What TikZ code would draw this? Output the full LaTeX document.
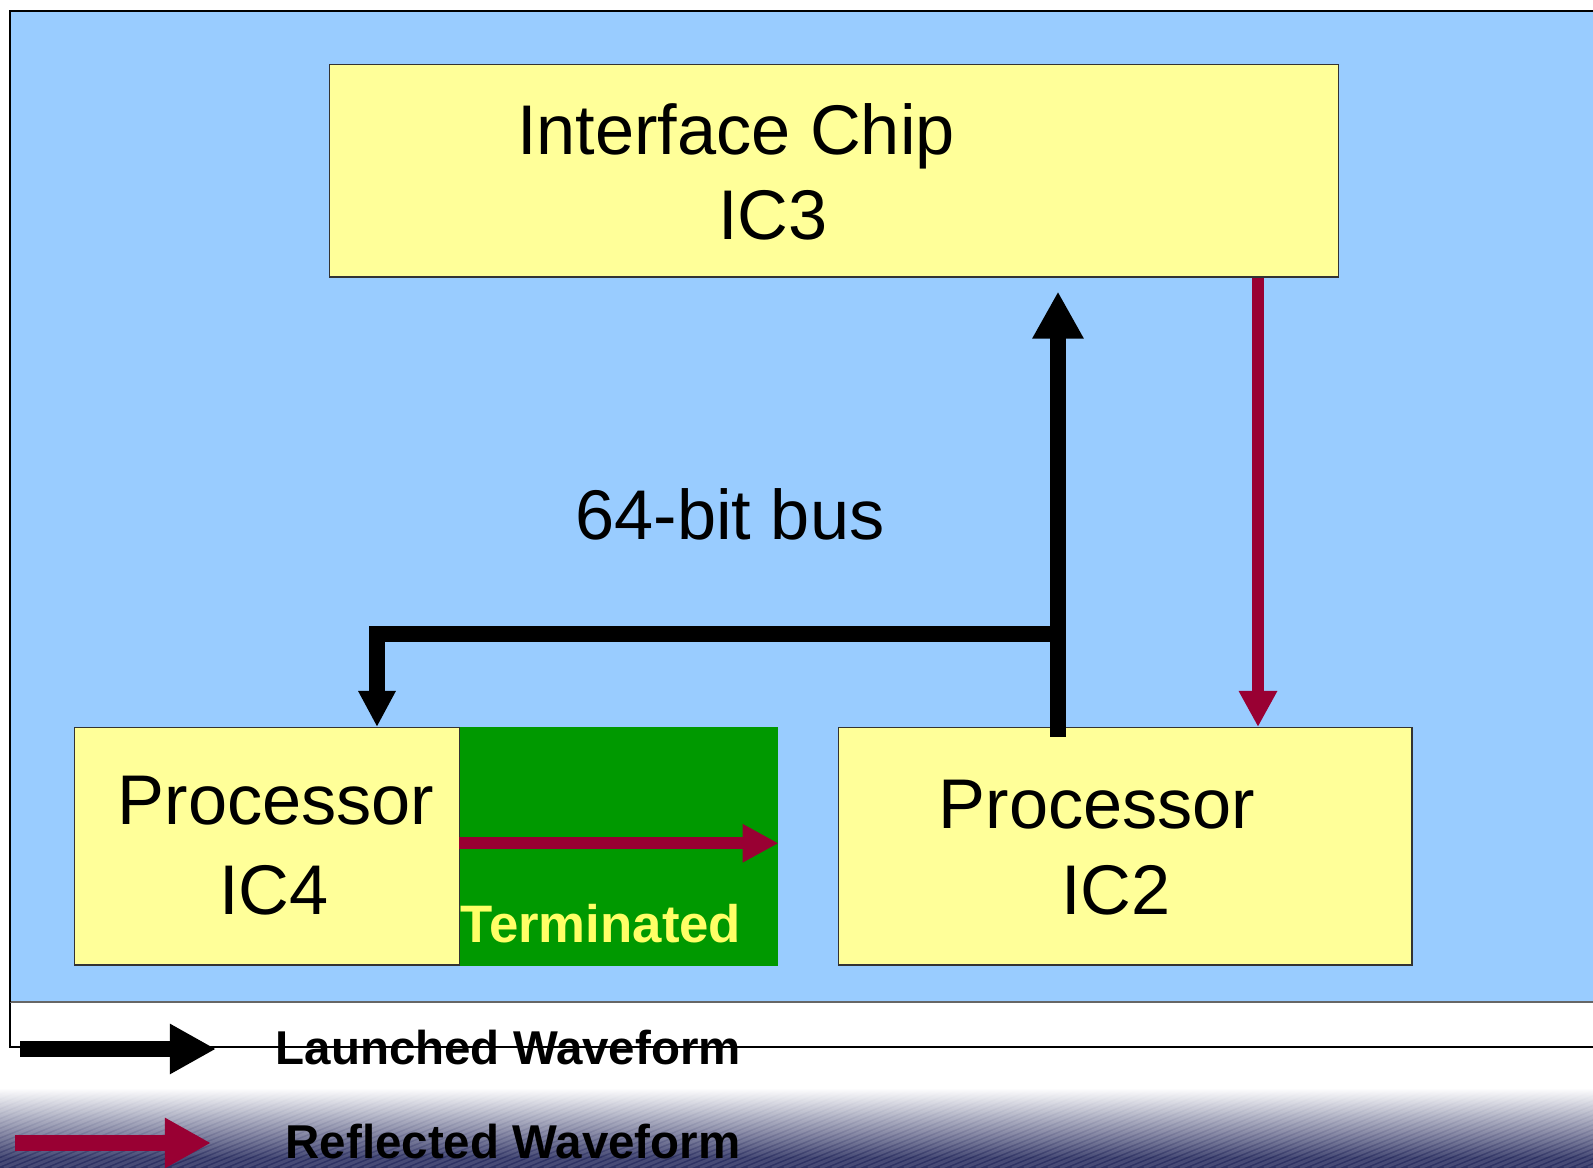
\documentclass[tikz,border=0pt]{standalone}
\usepackage{fontspec}
\setmainfont{Liberation Sans}
\usetikzlibrary{calc,arrows.meta}

\definecolor{panelblue}{HTML}{99CCFF}
\definecolor{chipyellow}{HTML}{FFFF99}
\definecolor{termgreen}{HTML}{009900}
\definecolor{reflred}{HTML}{990033}
\definecolor{termtext}{HTML}{FFFF66}
\definecolor{slidenavy}{HTML}{2E3263}

\tikzset{
  chip/.style={draw=black!80, line width=0.4pt, fill=chipyellow, inner sep=0pt, anchor=north west},
  chiptext/.style={font=\fontsize{20}{24}\selectfont, inner sep=0pt, anchor=base},
  legendtext/.style={font=\bfseries\fontsize{13.5}{16}\selectfont, inner sep=0pt, anchor=base west},
  launch/.style={line width=4.55pt, -{Triangle[width=0.48cm,length=0.47cm]}},
  branch/.style={line width=4.55pt, -{Triangle[width=0.35cm,length=0.36cm]}},
  reflect/.style={reflred, line width=3.4pt, -{Triangle[width=0.36cm,length=0.36cm]}},
  legarrow/.style={line width=4.55pt, -{Triangle[width=0.47cm,length=0.46cm]}}
}

\begin{document}
\begin{tikzpicture}[x=0.01cm, y=-0.01cm]

\clip (0,0) rectangle (1593,1168);
\fill[white] (0,0) rectangle (1593,1168);

% slide background at the foot
\shade[top color=white, bottom color=slidenavy] (0,1088) rectangle (1593,1158);
\fill[slidenavy] (0,1157) rectangle (1593,1168);
\begin{scope}
  \clip (0,1088) rectangle (1593,1168);
  \foreach \s in {-320,-308,...,1600}
    \draw[white, opacity=0.12, line width=0.8pt] (\s,1168) -- ++(260,-105);
\end{scope}

% frame and blue panel
\draw[black, line width=0.6pt, fill=white] (10,11) rectangle (1620,1047);
\fill[panelblue] (10,11) rectangle (1620,1002);
\draw[black!60, line width=0.4pt] (10,1002) -- (1620,1002);
\draw[black, line width=0.8pt] (10,1002) -- (10,11) -- (1620,11);

% chips
\node[chip, minimum width=10.08cm, minimum height=2.12cm] (IC3) at (329,64) {};
\node[chip, minimum width=3.85cm, minimum height=2.37cm] (IC4) at (74,727) {};
\node[fill=termgreen, inner sep=0pt, anchor=north west,
      minimum width=3.18cm, minimum height=2.39cm] (term) at (459,726) {};
\node[chip, minimum width=5.73cm, minimum height=2.37cm] (IC2) at (838,727) {};

\node[chiptext] (IC3a) at (736,155) {Interface Chip};
\node[chiptext] (IC3b) at (773,240) {IC3};
\node[chiptext] (IC4a) at (276,825) {Processor};
\node[chiptext] (IC4b) at (274,915) {IC4};
\node[chiptext] (IC2a) at (1097,829) {Processor};
\node[chiptext] (IC2b) at (1116,915) {IC2};
\node[chiptext] (bus) at (730,540) {64-bit bus};
\node[font=\bfseries\fontsize{15}{18}\selectfont, text=termtext, inner sep=0pt, anchor=base]
     (termlbl) at (601,943) {Terminated};

% bus connectors
\coordinate (b0) at ($(IC2.north west)+(220,10)$);
\coordinate (tap) at (1058,634);
\draw[launch] (b0) -- ($(IC3.south west)+(729,14)$);
\draw[branch] (tap) -| ($(IC4.north west)+(303,0)$);

% reflections
\draw[reflect] ($(IC3.south west)+(929,0)$) -- ($(IC2.north west)+(420,0)$);
\draw[reflect] ($(term.west)+(0,-3)$) -- ($(term.east)+(0,-3)$);

% legend
\coordinate (k1) at (20,1049);
\coordinate (k2) at (216,1049);
\coordinate (k3) at (15,1143);
\coordinate (k4) at (211,1143);
\draw[legarrow] (k1) -- (k2);
\draw[legarrow, reflred] (k3) -- (k4);
\node[legendtext] (leg1) at (275,1065) {Launched Waveform};
\node[legendtext] (leg2) at (285,1159) {Reflected Waveform};

\end{tikzpicture}
\end{document}
